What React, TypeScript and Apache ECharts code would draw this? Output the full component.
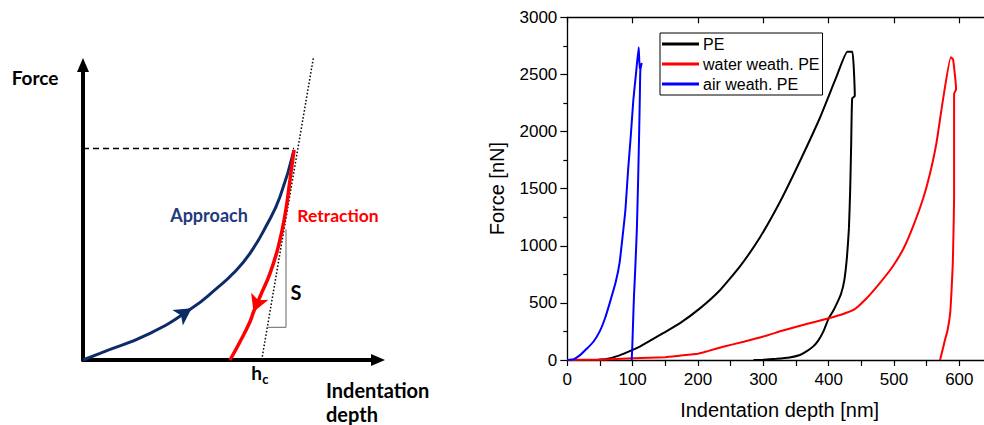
import React, { useEffect, useRef } from "react";
import * as echarts from "echarts";

// ---------- Right chart data: [indentation depth (nm), force (nN)] ----------
const seriesNames = ["PE", "water weath. PE", "air weath. PE"];
const seriesColors = ["#000000", "#ff0000", "#0000ff"];

const peCurve: number[][] = [
  [45, 0], [60, 8], [80, 40], [100, 88], [111, 117], [142, 219], [172, 321], [203, 452],
  [234, 613], [264, 817], [295, 1075], [326, 1390], [356, 1740], [387, 2125], [412, 2480],
  [428.6, 2699], [436.3, 2699], [440, 2310], [436, 2290], [434.5, 1900], [433, 1500],
  [431, 1150], [428, 900], [424, 700], [419, 580], [413, 500], [406, 420], [400, 365],
  [392, 250], [384, 170], [376, 117], [366, 75], [356, 44], [340, 22], [320, 10], [300, 2], [285, 0],
];

const waterCurve: number[][] = [
  [0, 0], [50, 3], [100, 15], [150, 25], [172, 38], [200, 55], [215, 78], [240, 118],
  [270, 160], [300, 205], [330, 258], [355, 298], [380, 335], [400, 365], [420, 398],
  [440, 445], [458, 540], [477, 665], [497, 810], [515, 980], [530, 1180], [545, 1420],
  [555, 1630], [565, 1900], [575, 2280], [587, 2650], [590.5, 2630], [595, 2370],
  [592, 2330], [592, 1900], [592, 1430], [591, 1100], [590, 846], [588, 600], [586, 410],
  [582, 260], [578, 175], [574, 80], [570.5, 0],
];

const airCurve: number[][] = [
  [0, 0], [10, 8], [20, 45], [30, 100], [40, 160], [50, 255], [58, 370], [65, 500],
  [74, 680], [80, 850], [85, 1100], [89, 1320], [93, 1660], [97, 1950], [101, 2270],
  [105, 2500], [109.3, 2737], [110.8, 2550], [113.9, 2600], [111.8, 2540], [111, 2300],
  [110, 2000], [108.5, 1600], [106.5, 1150], [104, 800], [102, 550], [100.5, 300],
  [99.5, 120], [98.6, 0],
];

const xTitle = "Indentation depth [nm]";
const yTitle = "Force [nN]";

// ---------- Left schematic data (arbitrary units) ----------
const approachCurve: number[][] = [
  [0, 0], [17, 6.7], [67, 26.7], [108.7, 51.7], [133.7, 71.7], [150.3, 86.7],
  [167, 106.7], [183.7, 135], [197, 163.3], [211, 210],
];
const approachArrowIndex = 3;
const retractionCurve: number[][] = [
  [211, 210], [207, 180], [202, 145], [195.3, 113.3], [187, 86.7], [177, 63.3],
  [170.5, 48], [167, 38.3], [157, 18.3], [147, 0],
];
const retractionArrowIndex = 6;
const tangentLine: number[][] = [[178.7, 0], [230.3, 301.7]];
const maxForceLine: number[][] = [[0, 211.5], [211, 211.5]];
const slopeBracket: number[][] = [[184.8, 32.7], [203, 32.7], [203, 130.7]];

const schematicLabels = {
  force: "Force",
  depth1: "Indentation",
  depth2: "depth",
  approach: "Approach",
  retraction: "Retraction",
  s: "S",
  h: "h",
  c: "c",
};

const NAVY = "#0d2b69";

function arrowRotation(curve: number[][], i: number): number {
  const a = curve[i - 1];
  const b = curve[i + 1];
  return (Math.atan2(b[1] - a[1], b[0] - a[0]) * 180) / Math.PI - 90;
}

export default function App() {
  const ref = useRef<HTMLDivElement>(null);

  useEffect(() => {
    if (!ref.current) return;
    const chart = echarts.init(ref.current, undefined, { renderer: "svg" });
    const font = "Liberation Sans, Arial, sans-serif";
    const sfont = "Lato, Calibri, sans-serif";

    const hiddenAxis = {
      gridIndex: 1,
      type: "value",
      min: 0,
      max: 295,
      axisTick: { show: false },
      axisLabel: { show: false },
      splitLine: { show: false },
      axisLine: {
        show: true,
        onZero: false,
        symbol: ["none", "triangle"],
        symbolSize: [12, 14],
        lineStyle: { color: "#000", width: 4 },
      },
    };

    const option: any = {
      animation: false,
      backgroundColor: "#ffffff",
      grid: [
        { left: 567.3, top: 17.3, right: -8, bottom: 65, outerBoundsMode: "none" },
        { left: 83, top: 65, width: 295, height: 295, outerBoundsMode: "none" },
      ],
      legend: {
        data: seriesNames,
        orient: "vertical",
        left: 660,
        top: 33,
        icon: "rect",
        itemWidth: 37,
        itemHeight: 3,
        itemGap: 4,
        padding: [3, 3, 3, 2],
        borderColor: "#000",
        borderWidth: 1,
        borderRadius: 0,
        backgroundColor: "#fff",
        textStyle: { fontFamily: font, fontSize: 16, color: "#000", padding: [0, 0, 0, -1] },
      },
      xAxis: [
        {
          gridIndex: 0,
          type: "value",
          min: 0,
          max: 650,
          interval: 50,
          name: xTitle,
          nameLocation: "middle",
          nameGap: 40,
          nameTextStyle: { fontFamily: font, fontSize: 20, color: "#000" },
          axisLine: { show: true, onZero: false, lineStyle: { color: "#000", width: 1.3 } },
          axisTick: { show: true, inside: false, length: 6, lineStyle: { color: "#000", width: 1.2 } },
          axisLabel: {
            fontFamily: font,
            fontSize: 17,
            color: "#000",
            margin: 11,
            showMaxLabel: false,
            formatter: (v: number) => (v % 100 === 0 ? String(v) : ""),
          },
          splitLine: { show: false },
        },
        {
          gridIndex: 0,
          type: "value",
          position: "top",
          min: 0,
          max: 650,
          interval: 100,
          axisLine: { show: true, onZero: false, lineStyle: { color: "#000", width: 1.3 } },
          axisTick: { show: true, inside: true, length: 6, lineStyle: { color: "#000", width: 1.2 } },
          axisLabel: { show: false },
          splitLine: { show: false },
        },
        hiddenAxis,
      ],
      yAxis: [
        {
          gridIndex: 0,
          type: "value",
          min: 0,
          max: 3000,
          interval: 500,
          name: yTitle,
          nameLocation: "middle",
          nameGap: 60,
          nameTextStyle: { fontFamily: font, fontSize: 20, color: "#000" },
          axisLine: { show: true, onZero: false, lineStyle: { color: "#000", width: 1.3 } },
          axisTick: { show: true, inside: false, length: 7, lineStyle: { color: "#000", width: 1.2 } },
          minorTick: { show: true, splitNumber: 2, length: 4, lineStyle: { color: "#000", width: 1.2 } },
          axisLabel: {
            fontFamily: font,
            fontSize: 17,
            color: "#000",
            margin: 10,
            formatter: (v: number) => String(v),
          },
          splitLine: { show: false },
          minorSplitLine: { show: false },
        },
        { ...hiddenAxis },
      ],
      series: [
        ...[peCurve, waterCurve, airCurve].map((d, i) => ({
          name: seriesNames[i],
          type: "line",
          xAxisIndex: 0,
          yAxisIndex: 0,
          data: d,
          showSymbol: false,
          symbol: "none",
          smooth: 0.15,
          lineStyle: { color: seriesColors[i], width: 2 },
          itemStyle: { color: seriesColors[i] },
          z: 2 + i,
        })),
        {
          type: "line",
          xAxisIndex: 2,
          yAxisIndex: 1,
          data: maxForceLine,
          symbol: "none",
          clip: false,
          lineStyle: { color: "#000", width: 1.5, type: [6, 4] },
        },
        {
          type: "line",
          xAxisIndex: 2,
          yAxisIndex: 1,
          data: tangentLine,
          symbol: "none",
          clip: false,
          lineStyle: { color: "#000", width: 1.5, type: [1.5, 2] },
        },
        {
          type: "line",
          xAxisIndex: 2,
          yAxisIndex: 1,
          data: slopeBracket,
          symbol: "none",
          clip: false,
          lineStyle: { color: "#666", width: 1 },
        },
        {
          type: "line",
          xAxisIndex: 2,
          yAxisIndex: 1,
          data: approachCurve,
          symbol: "none",
          smooth: true,
          clip: false,
          lineStyle: { color: NAVY, width: 3 },
          z: 4,
        },
        {
          type: "line",
          xAxisIndex: 2,
          yAxisIndex: 1,
          data: retractionCurve,
          symbol: "none",
          smooth: true,
          clip: false,
          lineStyle: { color: "#ff0000", width: 3.5 },
          z: 4,
        },
        {
          type: "scatter",
          xAxisIndex: 2,
          yAxisIndex: 1,
          data: [approachCurve[approachArrowIndex]],
          symbol: "arrow",
          symbolSize: [14, 17],
          symbolRotate: arrowRotation(approachCurve, approachArrowIndex),
          itemStyle: { color: NAVY, opacity: 1 },
          z: 5,
        },
        {
          type: "scatter",
          xAxisIndex: 2,
          yAxisIndex: 1,
          data: [retractionCurve[retractionArrowIndex]],
          symbol: "arrow",
          symbolSize: [14, 17],
          symbolRotate: arrowRotation(retractionCurve, retractionArrowIndex),
          itemStyle: { color: "#ff0000", opacity: 1 },
          z: 5,
        },
      ],
      graphic: [
        {
          type: "text",
          x: 11.7,
          y: 77.3,
          style: { text: schematicLabels.force, font: `bold 19px ${sfont}`, fill: "#000", textAlign: "left", textVerticalAlign: "middle" },
        },
        {
          type: "text",
          x: 326,
          y: 390,
          style: { text: schematicLabels.depth1, font: `bold 20px ${sfont}`, fill: "#000", textAlign: "left", textVerticalAlign: "middle" },
        },
        {
          type: "text",
          x: 326,
          y: 414,
          style: { text: schematicLabels.depth2, font: `bold 20px ${sfont}`, fill: "#000", textAlign: "left", textVerticalAlign: "middle" },
        },
        {
          type: "text",
          x: 209,
          y: 215,
          style: { text: schematicLabels.approach, font: `bold 18px ${sfont}`, fill: "#1f3b7d", textAlign: "center", textVerticalAlign: "middle" },
        },
        {
          type: "text",
          x: 338,
          y: 215,
          style: { text: schematicLabels.retraction, font: `bold 17.5px ${sfont}`, fill: "#ff0000", textAlign: "center", textVerticalAlign: "middle" },
        },
        {
          type: "text",
          x: 296,
          y: 292,
          style: { text: schematicLabels.s, font: `bold 20px ${sfont}`, fill: "#000", textAlign: "center", textVerticalAlign: "middle" },
        },
        {
          type: "text",
          x: 256.5,
          y: 372,
          style: { text: schematicLabels.h, font: `bold 19px ${sfont}`, fill: "#000", textAlign: "center", textVerticalAlign: "middle" },
        },
        {
          type: "text",
          x: 265.5,
          y: 379,
          style: { text: schematicLabels.c, font: `bold 13px ${sfont}`, fill: "#000", textAlign: "center", textVerticalAlign: "middle" },
        },
      ],
    };

    chart.setOption(option);
    return () => chart.dispose();
  }, []);

  return (
    <div
      ref={ref}
      style={{ position: "absolute", left: 0, top: 0, width: 984, height: 425, overflow: "hidden" }}
    />
  );
}
